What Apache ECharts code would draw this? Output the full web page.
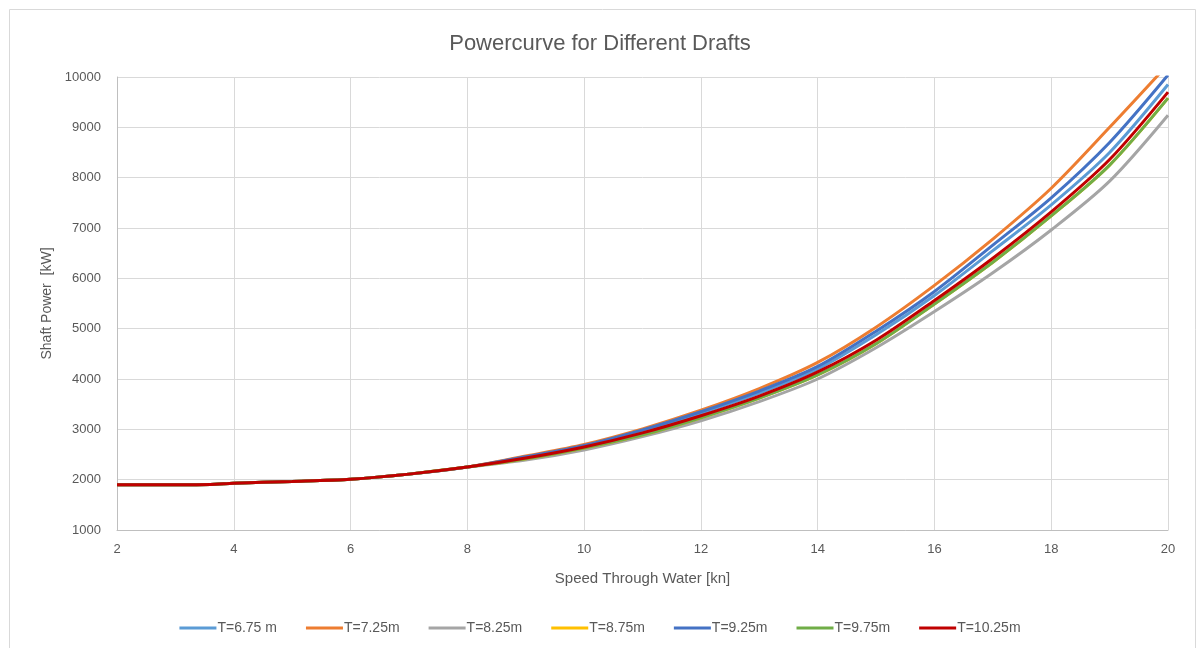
<!DOCTYPE html>
<html>
<head>
<meta charset="utf-8">
<title>Powercurve for Different Drafts</title>
<script src="https://cdn.jsdelivr.net/npm/echarts@6/dist/echarts.min.js"></script>
<style>
    html, body { margin: 0; padding: 0; background: #fff; }
    #chart { width: 1200px; height: 648px; }
</style>
</head>
<body>
<div id="chart"></div>
<script>
// 航速 [kn]
const speeds = [2, 3, 3.6, 4, 5, 6, 7, 8, 9, 10, 11, 12, 13, 14, 15, 16, 17, 18, 19, 20];

// 各吃水下的轴功率 [kW]
const t675 = [1900, 1900, 1905, 1930, 1965, 2010, 2110, 2250, 2445, 2670, 2970, 3320, 3720, 4200, 4880, 5660, 6550, 7460, 8500, 9850];
const t725 = [1900, 1900, 1905, 1930, 1965, 2010, 2110, 2250, 2470, 2700, 3010, 3380, 3810, 4330, 5030, 5860, 6780, 7790, 9000, 10250];
const t825 = [1900, 1900, 1905, 1930, 1965, 2010, 2110, 2250, 2390, 2590, 2855, 3170, 3550, 4000, 4620, 5340, 6110, 6960, 7930, 9240];
const t875 = [1900, 1900, 1905, 1930, 1965, 2010, 2110, 2250, 2415, 2630, 2890, 3230, 3620, 4080, 4700, 5490, 6320, 7240, 8250, 9580];
const t925 = [1900, 1900, 1905, 1930, 1965, 2010, 2110, 2250, 2455, 2680, 2990, 3350, 3760, 4250, 4950, 5740, 6660, 7600, 8700, 10040];
const t975 = [1900, 1900, 1905, 1930, 1965, 2010, 2110, 2250, 2415, 2630, 2890, 3230, 3620, 4080, 4700, 5490, 6320, 7240, 8250, 9580];
const t1025 = [1900, 1900, 1905, 1930, 1965, 2010, 2110, 2250, 2430, 2650, 2930, 3270, 3660, 4140, 4770, 5560, 6400, 7320, 8360, 9700];

const seriesNames = ['T=6.75 m', 'T=7.25m', 'T=8.25m', 'T=8.75m', 'T=9.25m', 'T=9.75m', 'T=10.25m'];
const seriesData = [t675, t725, t825, t875, t925, t975, t1025];
const colors = ['#5B9BD5', '#ED7D31', '#A5A5A5', '#FFC000', '#4472C4', '#70AD47', '#C00000'];

const textColor = '#595959';
const font = "'Liberation Sans', Arial, sans-serif";

const chart = echarts.init(document.getElementById('chart'), null, { renderer: 'canvas' });

const option = {
    color: colors,
    animation: false,
    textStyle: { fontFamily: font },
    title: {
        text: 'Powercurve for Different Drafts',
        left: 'center',
        top: 28,
        textStyle: { fontSize: 22, fontWeight: 'normal', color: textColor, fontFamily: font }
    },
    graphic: [{
        type: 'rect',
        shape: { x: 9.5, y: 9.5, width: 1186, height: 700 },
        style: { fill: 'none', stroke: '#d9d9d9', lineWidth: 1 },
        silent: true
    }],
    legend: {
        bottom: 8,
        left: 'center',
        icon: 'rect',
        itemWidth: 37,
        itemHeight: 3,
        itemGap: 29,
        textStyle: { fontSize: 14, color: textColor, padding: [0, 0, 0, -4] },
        data: seriesNames
    },
    grid: {
        left: 117,
        right: 32,
        top: 77,
        bottom: 118
    },
    xAxis: {
        type: 'value',
        min: 2,
        max: 20,
        interval: 2,
        name: 'Speed Through Water [kn]',
        nameLocation: 'middle',
        nameGap: 41,
        nameTextStyle: { fontSize: 15, color: textColor },
        axisLine: { show: true, lineStyle: { color: '#bfbfbf' } },
        axisTick: { show: false },
        axisLabel: { fontSize: 13, color: textColor, margin: 13 },
        splitLine: { show: true, lineStyle: { color: '#d9d9d9' } }
    },
    yAxis: {
        type: 'value',
        min: 1000,
        max: 10000,
        interval: 1000,
        name: 'Shaft Power  [kW]',
        nameLocation: 'middle',
        nameGap: 60,
        nameTextStyle: { fontSize: 14, color: textColor },
        axisLine: { show: true, lineStyle: { color: '#bfbfbf' } },
        axisTick: { show: false },
        axisLabel: {
            fontSize: 13,
            color: textColor,
            margin: 16,
            formatter: function(v) { return String(v); }
        },
        splitLine: { show: true, lineStyle: { color: '#d9d9d9' } }
    },
    series: seriesNames.map((name, i) => ({
        name: name,
        type: 'line',
        smooth: 0.3,
        showSymbol: false,
        clip: true,
        lineStyle: { width: 3 },
        data: speeds.map((s, j) => [s, seriesData[i][j]])
    }))
};

chart.setOption(option);

window.addEventListener('resize', function() {
    chart.resize();
});
</script>
</body>
</html>
